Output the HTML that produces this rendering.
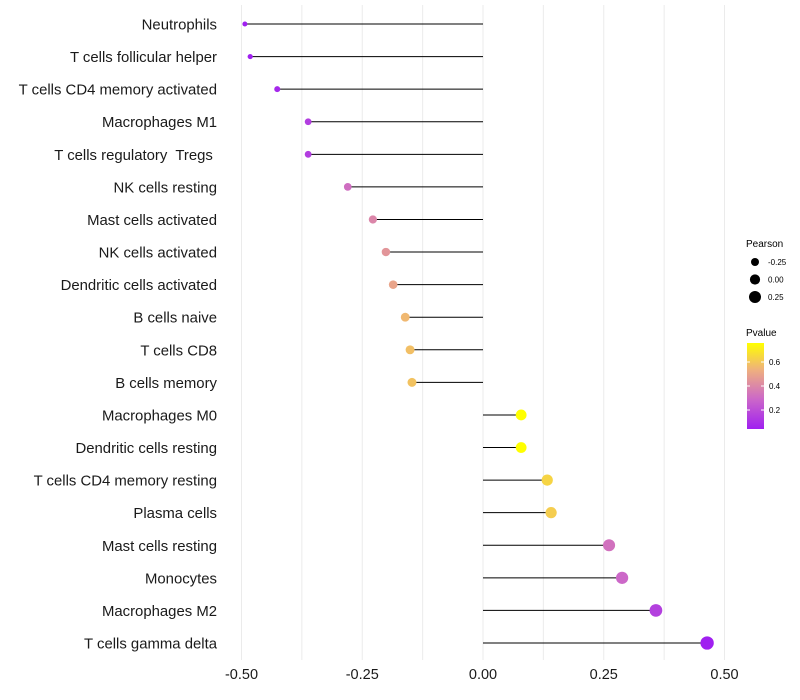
<!DOCTYPE html>
<html><head><meta charset="utf-8"><style>
body{margin:0;background:#fff;}
svg{display:block;font-family:"Liberation Sans",Arial,sans-serif;}
#labels text{white-space:pre;}
</style></head><body>
<svg id="chart" width="800" height="700">
<defs><linearGradient id="pg" x1="0" y1="1" x2="0" y2="0">
<stop offset="0" stop-color="#a020f0"/><stop offset="0.35" stop-color="#cc68c8"/><stop offset="0.68" stop-color="#eeae80"/><stop offset="1" stop-color="#ffff00"/>
</linearGradient></defs>
<g id="grid"></g>
<g id="marks"></g>
<g id="labels"></g>
<g id="xticks"></g>
<g>
<text x="746" y="247" font-size="10">Pearson</text>
<g id="sizeLegend"></g>
</g>
<g>
<text x="746" y="336" font-size="10">Pvalue</text>
<rect x="747" y="343" width="17" height="86" fill="url(#pg)"/>
<g id="colorTicks"></g>
</g>
</svg>
<script>
const categories=["Neutrophils","T cells follicular helper","T cells CD4 memory activated","Macrophages M1","T cells regulatory  Tregs ","NK cells resting","Mast cells activated","NK cells activated","Dendritic cells activated","B cells naive","T cells CD8","B cells memory","Macrophages M0","Dendritic cells resting","T cells CD4 memory resting","Plasma cells","Mast cells resting","Monocytes","Macrophages M2","T cells gamma delta"];
const pearson=[-0.493,-0.482,-0.426,-0.362,-0.362,-0.280,-0.228,-0.201,-0.186,-0.161,-0.151,-0.147,0.079,0.079,0.133,0.141,0.261,0.288,0.358,0.464];
const pvalues=[0.04,0.05,0.08,0.15,0.15,0.32,0.40,0.45,0.50,0.56,0.58,0.59,0.76,0.76,0.64,0.62,0.33,0.30,0.16,0.05];
const xTicks=[-0.5,-0.25,0,0.25,0.5];
const xTickLabels=["-0.50","-0.25","0.00","0.25","0.50"];
const sizeLegendValues=[-0.25,0,0.25];
const colorTickValues=[0.2,0.4,0.6];
const NS="http://www.w3.org/2000/svg";
function X(v){return 483+v*483;}
function Y(i){return 24+i*(643-24)/(categories.length-1);}
function R(v){return Math.sqrt(Math.max(3,26+40*v));}
function PY(p){return 428-(p-0.05)/0.2*24;}
const stops=[[0,[160,32,240]],[0.35,[204,104,200]],[0.68,[238,174,128]],[1,[255,255,0]]];
function col(p){let t=Math.min(1,Math.max(0,(p-0.05)/(0.76-0.05)));for(let k=1;k<stops.length;k++){if(t<=stops[k][0]){const a=stops[k-1],b=stops[k];const u=(t-a[0])/(b[0]-a[0]);const c=a[1].map((x,j)=>Math.round(x+(b[1][j]-x)*u));return `rgb(${c})`;}}return "rgb(255,255,0)";}
function el(t,a,p){const e=document.createElementNS(NS,t);for(const k in a)e.setAttribute(k,a[k]);p.appendChild(e);return e;}
const grid=document.getElementById('grid');
for(let v=-0.5;v<=0.5001;v+=0.125){const g=el('line',{x1:X(v),x2:X(v),y1:5,y2:660,stroke:'#ebebeb','stroke-width':1},grid);

}
const marks=document.getElementById('marks'),labels=document.getElementById('labels');
categories.forEach((c,i)=>{
 const y=Y(i);
 const l=el('line',{x1:X(0),x2:X(pearson[i]),y1:y,y2:y,stroke:'#000','stroke-width':1},marks);
 
 
 const d=el('circle',{cx:X(pearson[i]),cy:y,r:R(pearson[i]),fill:col(pvalues[i])},marks);
 
 
 const t=el('text',{x:217,y:y+5.5,'text-anchor':'end','font-size':14.9,fill:'#1a1a1a'},labels);
 t.textContent=c;
 
 
});
const xt=document.getElementById('xticks');
xTicks.forEach((v,i)=>{const t=el('text',{x:X(v),y:679,'text-anchor':'middle','font-size':14.5,fill:'#1a1a1a'},xt);t.textContent=xTickLabels[i];

});
const sl=document.getElementById('sizeLegend');
sizeLegendValues.forEach((v,i)=>{const y=262+i*17.5;const c=el('circle',{cx:755,cy:y,r:R(v),fill:'#000'},sl);


const t=el('text',{x:768,y:y+3,'font-size':8},sl);t.textContent=v.toFixed(2);

});
const ct=document.getElementById('colorTicks');
colorTickValues.forEach(v=>{const y=PY(v);el('line',{x1:747,x2:750,y1:y,y2:y,stroke:'#fff'},ct);el('line',{x1:761,x2:764,y1:y,y2:y,stroke:'#fff'},ct);
const t=el('text',{x:769,y:y+3,'font-size':8},ct);t.textContent=v.toFixed(1);

});
</script>
</body></html>
